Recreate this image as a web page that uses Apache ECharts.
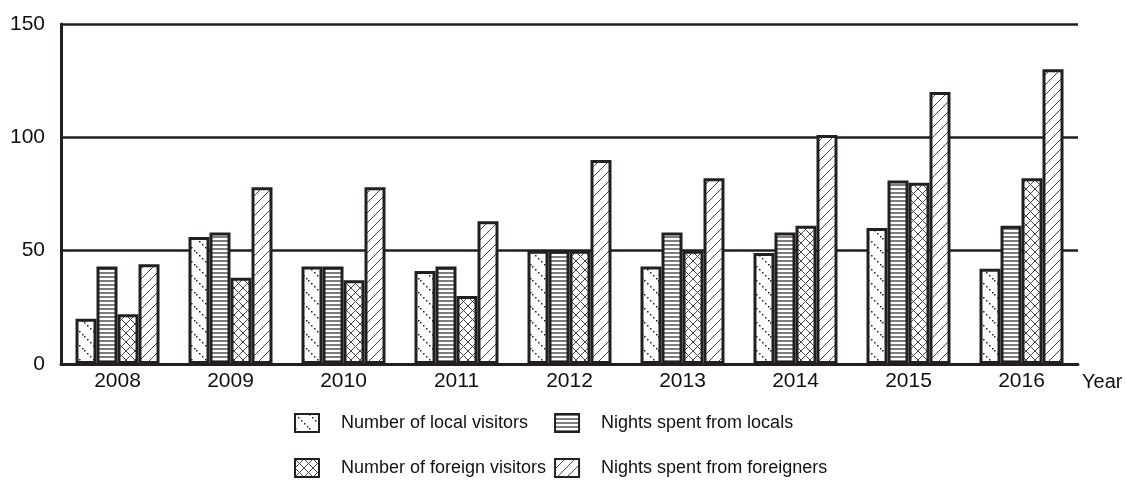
<!DOCTYPE html>
<html>
<head>
<meta charset="utf-8">
<style>
  html, body { margin: 0; padding: 0; background: #fff; }
  #chart { width: 1126px; height: 489px; }
</style>
<script src="https://cdn.jsdelivr.net/npm/echarts@6/dist/echarts.min.js"></script>
</head>
<body>
<div id="chart"></div>
<script>
// Tourism figures per year
const years = ['2008', '2009', '2010', '2011', '2012', '2013', '2014', '2015', '2016'];
const localVisitors   = [20, 56, 43, 41, 50, 43, 49, 60, 42];
const nightsLocals    = [43, 58, 43, 43, 50, 58, 58, 81, 61];
const foreignVisitors = [22, 38, 37, 30, 50, 50, 61, 80, 82];
const nightsForeign   = [44, 78, 78, 63, 90, 82, 101, 120, 130];
const yTicks = { min: 0, max: 150, interval: 50 };

const INK = '#231f20';
const FONT = "'Liberation Sans', Arial, Helvetica, sans-serif";

// Monochrome hatch fills drawn on small repeating tiles
function tile(w, h, draw) {
  const c = document.createElement('canvas');
  c.width = w; c.height = h;
  const ctx = c.getContext('2d');
  ctx.fillStyle = '#fff';
  ctx.fillRect(0, 0, w, h);
  draw(ctx, w, h);
  return { image: c, repeat: 'repeat' };
}

const dottedBackslash = tile(14, 14, (ctx, w) => {
  ctx.fillStyle = '#222';
  for (let i = 0; i < w; i += 3) ctx.fillRect(i, i, 1.5, 1.5);
});

const horizontalLines = tile(4, 4, (ctx, w) => {
  ctx.fillStyle = '#7d7d7d';
  ctx.fillRect(0, 0, w, 2);
});

const crossHatch = tile(9, 9, (ctx, w, h) => {
  ctx.strokeStyle = '#444';
  ctx.lineWidth = 1;
  ctx.beginPath();
  ctx.moveTo(0, 0); ctx.lineTo(w, h);
  ctx.moveTo(0, h); ctx.lineTo(w, 0);
  ctx.stroke();
});

const forwardSlash = tile(10, 10, (ctx, w, h) => {
  ctx.strokeStyle = '#444';
  ctx.lineWidth = 1;
  ctx.beginPath();
  ctx.moveTo(0, h); ctx.lineTo(w, 0);
  ctx.moveTo(-1, 1); ctx.lineTo(1, -1);
  ctx.moveTo(w - 1, h + 1); ctx.lineTo(w + 1, h - 1);
  ctx.stroke();
});

function barSeries(name, data, fill) {
  return {
    name: name,
    type: 'bar',
    data: data,
    barWidth: 21,
    barGap: '0%',
    itemStyle: { color: fill, borderColor: INK, borderWidth: 3 },
    emphasis: { disabled: true },
    animation: false
  };
}

const legendBase = {
  left: 289,
  itemWidth: 24, itemHeight: 18,
  icon: 'rect',
  itemStyle: { borderColor: INK, borderWidth: 2 },
  textStyle: { fontSize: 18, color: '#111', fontFamily: FONT, padding: [0, 0, 0, 17] },
  selectedMode: false
};

const chart = echarts.init(document.getElementById('chart'));
chart.setOption({
  backgroundColor: '#fff',
  animation: false,
  grid: { left: 61, right: 48, top: 24, bottom: 125, containLabel: false },
  legend: [
    Object.assign({}, legendBase, {
      data: ['Number of local visitors', 'Nights spent from locals'],
      top: 408, itemGap: 26
    }),
    Object.assign({}, legendBase, {
      data: ['Number of foreign visitors', 'Nights spent from foreigners'],
      top: 453, itemGap: 8
    })
  ],
  xAxis: {
    type: 'category',
    data: years,
    name: 'Year',
    nameLocation: 'end',
    nameGap: 4,
    nameTextStyle: { fontSize: 20, color: '#111', fontFamily: FONT, verticalAlign: 'top', padding: [8, 0, 0, 0] },
    axisLine: { lineStyle: { color: INK, width: 3 } },
    axisTick: { show: false },
    axisLabel: { fontSize: 21, color: '#111', fontFamily: FONT, margin: 7 }
  },
  yAxis: {
    type: 'value',
    min: yTicks.min, max: yTicks.max, interval: yTicks.interval,
    axisLine: { show: true, lineStyle: { color: INK, width: 3 } },
    axisTick: { show: false },
    axisLabel: { fontSize: 21, color: '#111', fontFamily: FONT, margin: 16 },
    splitLine: { lineStyle: { color: INK, width: 2.5 } }
  },
  series: [
    barSeries('Number of local visitors', localVisitors, dottedBackslash),
    barSeries('Nights spent from locals', nightsLocals, horizontalLines),
    barSeries('Number of foreign visitors', foreignVisitors, crossHatch),
    barSeries('Nights spent from foreigners', nightsForeign, forwardSlash)
  ]
});
</script>
</body>
</html>
